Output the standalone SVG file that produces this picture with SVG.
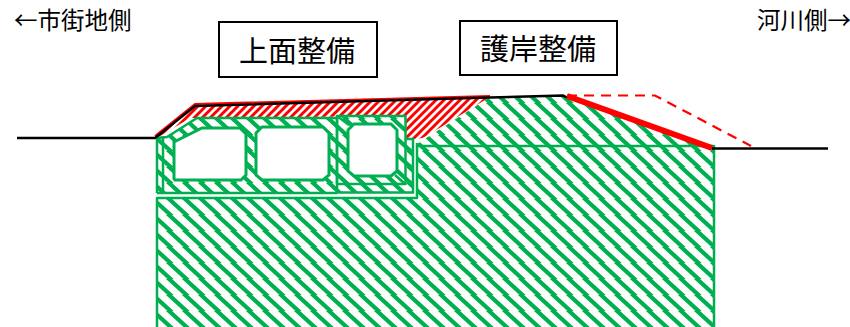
<svg xmlns="http://www.w3.org/2000/svg" width="850" height="327" viewBox="0 0 850 327">
<style>
.t{font-family:"Noto Sans CJK JP","Liberation Sans",sans-serif;fill:#000}
.s{font-size:23.500px}
.b{font-size:29px}
.box{fill:#fff;stroke:#000;stroke-width:2}
.g{fill:url(#gh);stroke:#00b050;stroke-width:2.500;stroke-linejoin:round}
.l{fill:none;stroke:#00b050;stroke-width:2.500}
.o{fill:#fff;stroke:#00b050;stroke-width:3}
.k{fill:none;stroke:#000;stroke-width:2.500}
</style>
<defs>
<pattern id="gh" patternUnits="userSpaceOnUse" width="16" height="16" patternTransform="translate(9 7)">
<rect width="16" height="16" fill="#fff"/>
<path d="M-2.200 -2L19.800 18M-18.200 -2L3.800 18M13.800 -2L35.800 18" stroke="#00b050" stroke-width="4.200"/>
</pattern>
<pattern id="rh" patternUnits="userSpaceOnUse" width="8" height="8">
<rect width="8" height="8" fill="#fff"/>
<path d="M-2 10L10 -2M-2 2L2 -2M6 10L10 6" stroke="#f00" stroke-width="3"/>
</pattern>
</defs>
<g id="red-fill">
<path d="M156 137L195 105L490 97L428 135Q422 139 416 139L406 139L406 116L190 118L157 138Z" fill="url(#rh)" stroke="none"/>
</g>
<g id="embankment">
<path d="M417 144L490 97L565 96L712 148L714 146H417Z" fill="url(#gh)"/>
<path class="g" d="M157 198H417V146H714V332H157Z"/>
<path class="l" d="M417 146V143"/>
</g>
<g id="culvert">
<path d="M337 139H413V192H157V138L167 137L197 118H337Z" fill="url(#gh)"/>
<path class="l" d="M337 192.500H413V139H405"/>
<path class="l" d="M157 193V138L167 137L197 118H337M157 193H337"/>
<path class="l" d="M163 138V193"/>
<path class="g" d="M337 116H405.500V184H337Z"/>
<path class="l" d="M337 116V193"/>
<path class="l" d="M395 175L405 184M349 125L337 116" stroke-width="1.500"/>
<path class="o" d="M174 142L202 128H240L246 134V175L241 180H175L174 179Z"/>
<path class="o" d="M262 127H323L329 133V175L323 180H262L256 175V133Z"/>
<path class="o" d="M354 124H391L397 130V171L391 176H354L348 171V130Z" stroke-width="2.500"/>
</g>
<g id="lines">
<path d="M155 136L195 104L490 96" fill="none" stroke="#f00" stroke-width="2"/>
<path class="k" d="M17 138H155L195 106L490 97.500L563 95.500L568 98"/>
<path class="k" d="M712 148.500H828"/>
<path d="M567 96L712 148" fill="none" stroke="#f00" stroke-width="6"/>
<path d="M567 95.500H655L751 146" fill="none" stroke="#f00" stroke-width="2.200" stroke-dasharray="10 7"/>
</g>
<g id="label-left"><text class="t s" x="14" y="29">←市街地側</text></g>
<g id="label-right"><text class="t s" x="757" y="29">河川側→</text></g>
<g id="label-top"><rect class="box" x="219" y="22" width="158" height="55"/><text class="t b" x="239" y="62">上面整備</text></g>
<g id="label-shore"><rect class="box" x="460" y="21" width="157" height="54"/><text class="t b" x="480" y="60">護岸整備</text></g>
</svg>
